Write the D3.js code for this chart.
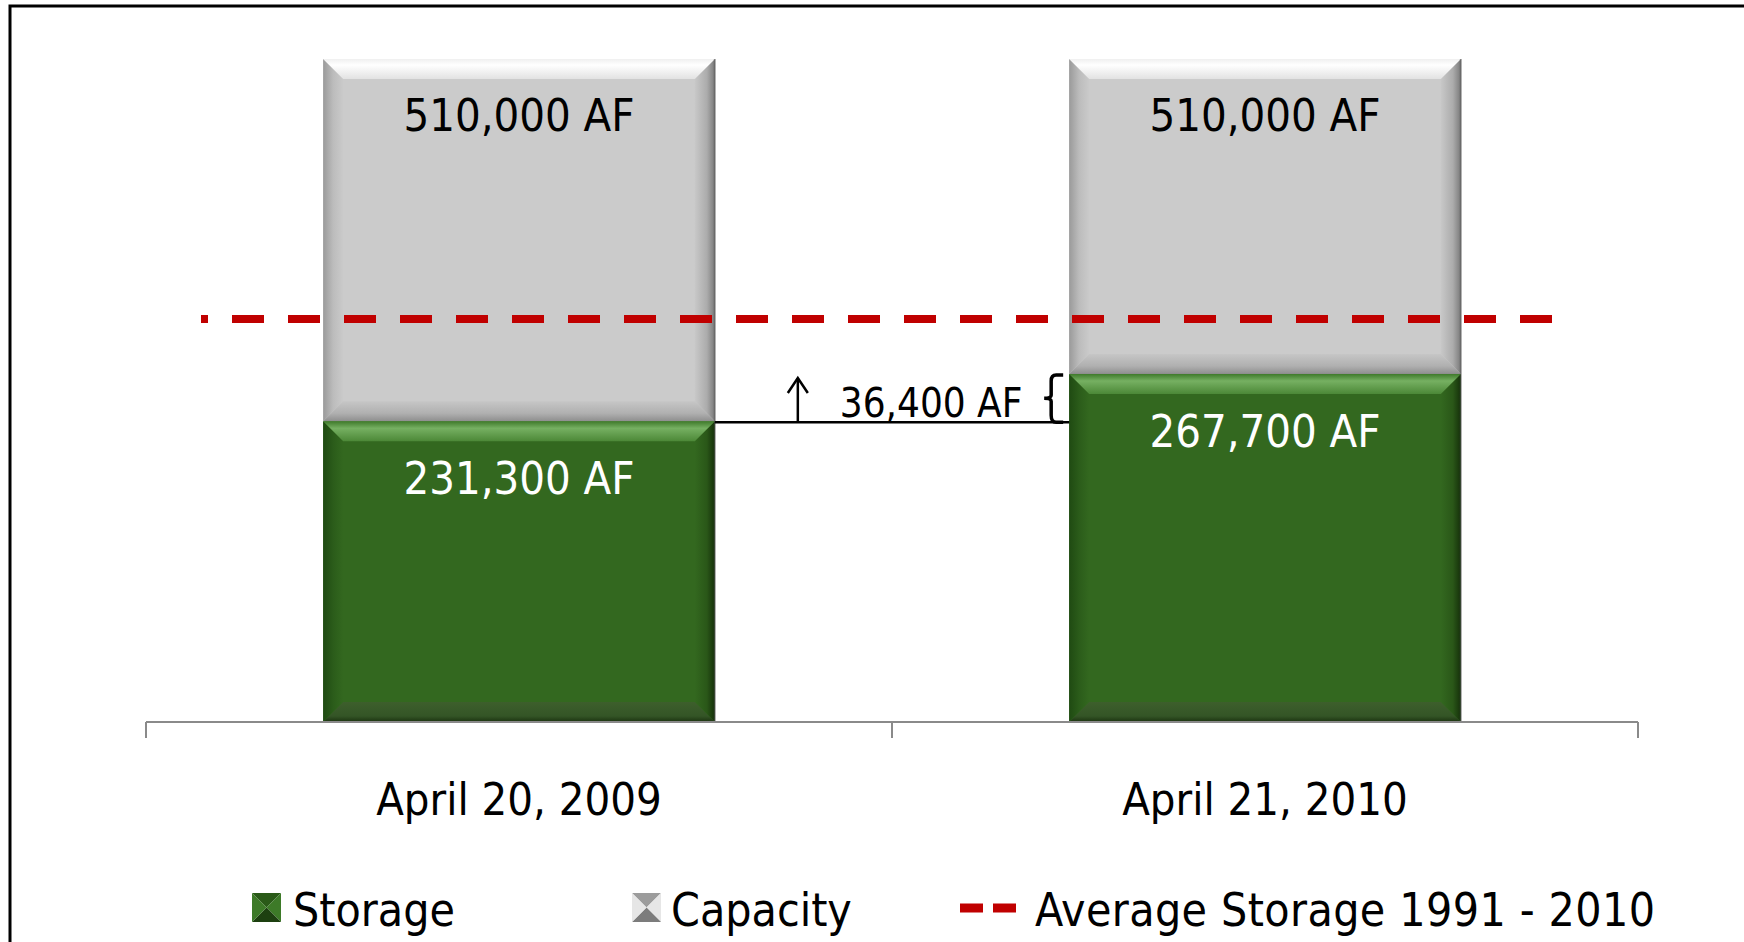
<!DOCTYPE html>
<html>
<head>
<meta charset="utf-8">
<script src="https://cdn.jsdelivr.net/npm/d3@7"></script>
<style>
  html, body { margin: 0; padding: 0; background: #ffffff; }
  svg { display: block; }
  text { font-family: "DejaVu Sans Condensed", "DejaVu Sans", sans-serif; }
</style>
</head>
<body>
<svg id="chart" width="1744" height="942"></svg>
<script>
// ---- data ----
const categories = ["April 20, 2009", "April 21, 2010"];
const storage = [231300, 267700];
const capacity = [510000, 510000];
const averageStorage = 310000;
const storageLabels = ["231,300 AF", "267,700 AF"];
const capacityLabels = ["510,000 AF", "510,000 AF"];
const differenceLabel = "36,400 AF";
const legendLabels = ["Storage", "Capacity", "Average Storage 1991 - 2010"];

// ---- setup ----
const svg = d3.select("#chart");

const x = d3.scaleBand().domain(categories).range([146, 1638]).padding(0);
const y = d3.scaleLinear().domain([0, 510000]).range([722, 59]);
const barW = x.bandwidth() * 0.525;
const barX = c => x(c) + (x.bandwidth() - barW) / 2;

const defs = svg.append("defs");
function lg(id, x1, y1, x2, y2, stops) {
  const g = defs.append("linearGradient").attr("id", id)
    .attr("x1", x1).attr("y1", y1).attr("x2", x2).attr("y2", y2);
  stops.forEach(s => g.append("stop").attr("offset", s[0]).attr("stop-color", s[1]));
}
// gray bevel gradients
lg("gTop", 0, 0, 0, 1, [[0, "#f0f0f0"], [0.3, "#ffffff"], [1, "#e2e2e2"]]);
lg("gLeft", 0, 0, 1, 0, [[0, "#9a9a9a"], [0.5, "#bcbcbc"], [1, "#cacaca"]]);
lg("gRight", 0, 0, 1, 0, [[0, "#c8c8c8"], [0.6, "#acacac"], [1, "#7a7a7a"]]);
lg("gBot", 0, 0, 0, 1, [[0, "#c6c6c6"], [0.6, "#b0b0b0"], [1, "#8e8e8e"]]);
// green bevel gradients
lg("sTop", 0, 0, 0, 1, [[0, "#3f7a2b"], [0.35, "#76b062"], [1, "#4c8837"]]);
lg("sLeft", 0, 0, 1, 0, [[0, "#1f4a12"], [0.5, "#2b5c1a"], [1, "#33681f"]]);
lg("sRight", 0, 0, 1, 0, [[0, "#33681f"], [0.6, "#2a5718"], [1, "#15300a"]]);
lg("sBot", 0, 0, 0, 1, [[0, "#3d5f2c"], [0.7, "#345526"], [1, "#1b3310"]]);

// border (extends beyond canvas at right/bottom)
svg.append("rect").attr("x", 10).attr("y", 6).attr("width", 1800).attr("height", 1000)
  .attr("fill", "none").attr("stroke", "#000").attr("stroke-width", 3);

function bevelRect(g, x0, y0, w, h, base, ids, b) {
  const x1 = x0 + w, y1 = y0 + h;
  const bb = Math.min(b, h / 2, w / 2);
  g.append("rect").attr("x", x0).attr("y", y0).attr("width", w).attr("height", h).attr("fill", base);
  const poly = (pts, fill) => g.append("polygon")
    .attr("points", pts.map(p => p.join(",")).join(" ")).attr("fill", fill);
  poly([[x0, y0], [x0 + bb, y0 + bb], [x0 + bb, y1 - bb], [x0, y1]], `url(#${ids[1]})`);
  poly([[x1, y0], [x1 - bb, y0 + bb], [x1 - bb, y1 - bb], [x1, y1]], `url(#${ids[2]})`);
  poly([[x0, y1], [x0 + bb, y1 - bb], [x1 - bb, y1 - bb], [x1, y1]], `url(#${ids[3]})`);
  poly([[x0, y0], [x1, y0], [x1 - bb, y0 + bb], [x0 + bb, y0 + bb]], `url(#${ids[0]})`);
}

// bars
const bars = svg.append("g");
categories.forEach((c, i) => {
  const bx = barX(c);
  bevelRect(bars, bx, y(capacity[i]), barW, y(storage[i]) - y(capacity[i]),
    "#cbcbcb", ["gTop", "gLeft", "gRight", "gBot"], 20);
  bevelRect(bars, bx, y(storage[i]), barW, y(0) - y(storage[i]),
    "#33681f", ["sTop", "sLeft", "sRight", "sBot"], 20);
  bars.append("line").attr("x1", bx + barW).attr("x2", bx + barW)
    .attr("y1", y(capacity[i])).attr("y2", y(0))
    .attr("stroke", "#4a4a4a").attr("stroke-width", 2).attr("opacity", 0.5);
});

// axis
const axisG = svg.append("g").attr("transform", `translate(0,${y(0)})`);
axisG.append("line").attr("x1", 146).attr("x2", 1638).attr("y1", 0).attr("y2", 0)
  .attr("stroke", "#8a8a8a").attr("stroke-width", 2);
const tickXs = categories.map(c => x(c)).concat([x(categories[categories.length - 1]) + x.bandwidth()]);
axisG.selectAll("line.tick").data(tickXs).enter().append("line").attr("class", "tick")
  .attr("x1", d => d).attr("x2", d => d).attr("y1", 0).attr("y2", 16)
  .attr("stroke", "#8a8a8a").attr("stroke-width", 2);
axisG.selectAll("text.cat").data(categories).enter().append("text").attr("class", "cat")
  .attr("x", d => x(d) + x.bandwidth() / 2).attr("y", 93)
  .attr("text-anchor", "middle").attr("font-size", 45).attr("fill", "#000")
  .text(d => d);

// bar labels
svg.selectAll("text.cap").data(categories).enter().append("text").attr("class", "cap")
  .attr("x", c => x(c) + x.bandwidth() / 2).attr("y", (c, i) => y(capacity[i]) + 72)
  .attr("text-anchor", "middle").attr("font-size", 45).attr("fill", "#000")
  .text((c, i) => capacityLabels[i]);
svg.selectAll("text.sto").data(categories).enter().append("text").attr("class", "sto")
  .attr("x", c => x(c) + x.bandwidth() / 2).attr("y", (c, i) => y(storage[i]) + 73)
  .attr("text-anchor", "middle").attr("font-size", 45).attr("fill", "#fff")
  .text((c, i) => storageLabels[i]);

// average dashed line
svg.append("line").attr("x1", 201).attr("x2", 1552)
  .attr("y1", y(averageStorage)).attr("y2", y(averageStorage))
  .attr("stroke", "#c00000").attr("stroke-width", 8)
  .attr("stroke-dasharray", "32 24").attr("stroke-dashoffset", 25);

// difference annotation
const ann = svg.append("g").attr("stroke", "#000").attr("fill", "none").attr("stroke-width", 2.5);
const b1r = barX(categories[0]) + barW;
const b2l = barX(categories[1]);
const yLow = y(storage[0]) + 1, yHigh = y(storage[1]);
ann.append("line").attr("x1", b1r).attr("x2", b2l).attr("y1", yLow).attr("y2", yLow);
const ax = b1r + 83;
ann.append("line").attr("x1", ax).attr("x2", ax).attr("y1", yLow).attr("y2", yHigh + 4);
ann.append("path").attr("d", `M${ax - 10},${yHigh + 19} L${ax},${yHigh + 4} L${ax + 10},${yHigh + 19}`);
// brace
const bx0 = b2l - 6, bxm = b2l - 18, bym = (yLow + yHigh) / 2;
ann.append("path").attr("stroke-width", 3.5).attr("d",
  `M${bx0},${yHigh + 1} L${bxm + 5},${yHigh + 1} Q${bxm},${yHigh + 1} ${bxm},${yHigh + 7}` +
  ` L${bxm},${bym - 3} Q${bxm},${bym} ${bxm - 7},${bym} Q${bxm},${bym} ${bxm},${bym + 3}` +
  ` L${bxm},${yLow - 7} Q${bxm},${yLow} ${bxm + 5},${yLow} L${bx0},${yLow}`);
svg.append("text").attr("x", ax + 42).attr("y", yLow - 5)
  .attr("font-size", 40).attr("fill", "#000").text(differenceLabel);

// legend
const leg = svg.append("g");
function pyramidIcon(g, x0, y0, s, cols) {
  const c = [x0 + s / 2, y0 + s / 2];
  const tri = (pts, f) => g.append("polygon").attr("points", pts.map(p => p.join(",")).join(" ")).attr("fill", f);
  tri([[x0, y0], [x0 + s, y0], c], cols[0]);
  tri([[x0 + s, y0], [x0 + s, y0 + s], c], cols[1]);
  tri([[x0, y0 + s], [x0 + s, y0 + s], c], cols[2]);
  tri([[x0, y0], [x0, y0 + s], c], cols[3]);
}
pyramidIcon(leg, 252, 893, 29, ["#2a5a18", "#3d7a28", "#1d4010", "#3d7a28"]);
pyramidIcon(leg, 632, 893, 29, ["#9c9c9c", "#e6e6e6", "#7c7c7c", "#e6e6e6"]);
leg.append("line").attr("x1", 960).attr("x2", 1016).attr("y1", 908).attr("y2", 908)
  .attr("stroke", "#c00000").attr("stroke-width", 9).attr("stroke-dasharray", "23 10");
const legX = [293, 671, 1035];
leg.selectAll("text").data(legendLabels).enter().append("text")
  .attr("x", (d, i) => legX[i]).attr("y", 926)
  .attr("font-size", 46).attr("fill", "#000")
  .attr("letter-spacing", (d, i) => i === 2 ? 0.4 : 0)
  .text(d => d);
</script>
</body>
</html>
